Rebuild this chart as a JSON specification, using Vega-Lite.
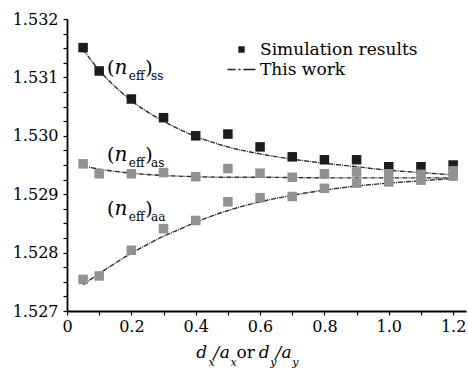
{
  "$schema": "https://vega.github.io/schema/vega-lite/v6.json",
  "width": 399,
  "height": 292,
  "autosize": {"type": "none"},
  "padding": {"left": 67, "top": 19, "right": 2, "bottom": 58},
  "background": "white",
  "config": {
    "view": {"stroke": null},
    "font": "DejaVu Serif",
    "axis": {
      "domainColor": "black",
      "domainWidth": 1.8,
      "tickColor": "black",
      "tickWidth": 1.2,
      "tickSize": 4,
      "labelColor": "black",
      "labelFont": "DejaVu Serif",
      "labelFontSize": 16,
      "grid": false,
      "title": null,
      "labelOverlap": false,
      "labelFlush": false
    }
  },
  "datasets": {
    "sim": [
      {"x": 0.05, "y": 1.53151, "s": "ss"}, {"x": 0.1, "y": 1.53111, "s": "ss"}, {"x": 0.2, "y": 1.53063, "s": "ss"},
      {"x": 0.3, "y": 1.53031, "s": "ss"}, {"x": 0.4, "y": 1.53000, "s": "ss"}, {"x": 0.5, "y": 1.53003, "s": "ss"},
      {"x": 0.6, "y": 1.52981, "s": "ss"}, {"x": 0.7, "y": 1.52964, "s": "ss"}, {"x": 0.8, "y": 1.52959, "s": "ss"},
      {"x": 0.9, "y": 1.52959, "s": "ss"}, {"x": 1.0, "y": 1.52947, "s": "ss"}, {"x": 1.1, "y": 1.52947, "s": "ss"},
      {"x": 1.2, "y": 1.52950, "s": "ss"},
      {"x": 0.05, "y": 1.52952, "s": "as"}, {"x": 0.1, "y": 1.52935, "s": "as"}, {"x": 0.2, "y": 1.52935, "s": "as"},
      {"x": 0.3, "y": 1.52937, "s": "as"}, {"x": 0.4, "y": 1.52930, "s": "as"}, {"x": 0.5, "y": 1.52944, "s": "as"},
      {"x": 0.6, "y": 1.52936, "s": "as"}, {"x": 0.7, "y": 1.52929, "s": "as"}, {"x": 0.8, "y": 1.52935, "s": "as"},
      {"x": 0.9, "y": 1.52938, "s": "as"}, {"x": 1.0, "y": 1.52935, "s": "as"}, {"x": 1.1, "y": 1.52934, "s": "as"},
      {"x": 1.2, "y": 1.52940, "s": "as"},
      {"x": 0.05, "y": 1.52754, "s": "aa"}, {"x": 0.1, "y": 1.52760, "s": "aa"}, {"x": 0.2, "y": 1.52804, "s": "aa"},
      {"x": 0.3, "y": 1.52841, "s": "aa"}, {"x": 0.4, "y": 1.52855, "s": "aa"}, {"x": 0.5, "y": 1.52887, "s": "aa"},
      {"x": 0.6, "y": 1.52894, "s": "aa"}, {"x": 0.7, "y": 1.52896, "s": "aa"}, {"x": 0.8, "y": 1.52910, "s": "aa"},
      {"x": 0.9, "y": 1.52919, "s": "aa"}, {"x": 1.0, "y": 1.52921, "s": "aa"}, {"x": 1.1, "y": 1.52924, "s": "aa"},
      {"x": 1.2, "y": 1.52931, "s": "aa"}
    ],
    "fit": [
      {"x": 0.05, "y": 1.53148, "s": "ss"}, {"x": 0.1, "y": 1.53112, "s": "ss"}, {"x": 0.15, "y": 1.53084, "s": "ss"},
      {"x": 0.2, "y": 1.53060, "s": "ss"}, {"x": 0.25, "y": 1.53041, "s": "ss"}, {"x": 0.3, "y": 1.53025, "s": "ss"},
      {"x": 0.35, "y": 1.53011, "s": "ss"}, {"x": 0.4, "y": 1.52999, "s": "ss"}, {"x": 0.5, "y": 1.52981, "s": "ss"},
      {"x": 0.6, "y": 1.52969, "s": "ss"}, {"x": 0.7, "y": 1.52960, "s": "ss"}, {"x": 0.8, "y": 1.52953, "s": "ss"},
      {"x": 0.9, "y": 1.52947, "s": "ss"}, {"x": 1.0, "y": 1.52941, "s": "ss"}, {"x": 1.1, "y": 1.52937, "s": "ss"},
      {"x": 1.2, "y": 1.52933, "s": "ss"},
      {"x": 0.05, "y": 1.52948, "s": "as"}, {"x": 0.1, "y": 1.52943, "s": "as"}, {"x": 0.15, "y": 1.52939, "s": "as"},
      {"x": 0.2, "y": 1.52936, "s": "as"}, {"x": 0.3, "y": 1.52932, "s": "as"}, {"x": 0.4, "y": 1.52930, "s": "as"},
      {"x": 0.5, "y": 1.52929, "s": "as"}, {"x": 0.6, "y": 1.52929, "s": "as"}, {"x": 0.8, "y": 1.52928, "s": "as"},
      {"x": 1.0, "y": 1.52928, "s": "as"}, {"x": 1.2, "y": 1.52928, "s": "as"},
      {"x": 0.05, "y": 1.52745, "s": "aa"}, {"x": 0.1, "y": 1.52764, "s": "aa"}, {"x": 0.15, "y": 1.52782, "s": "aa"},
      {"x": 0.2, "y": 1.52799, "s": "aa"}, {"x": 0.25, "y": 1.52814, "s": "aa"}, {"x": 0.3, "y": 1.52828, "s": "aa"},
      {"x": 0.35, "y": 1.52840, "s": "aa"}, {"x": 0.4, "y": 1.52852, "s": "aa"}, {"x": 0.5, "y": 1.52872, "s": "aa"},
      {"x": 0.6, "y": 1.52887, "s": "aa"}, {"x": 0.7, "y": 1.52898, "s": "aa"}, {"x": 0.8, "y": 1.52907, "s": "aa"},
      {"x": 0.9, "y": 1.52914, "s": "aa"}, {"x": 1.0, "y": 1.52919, "s": "aa"}, {"x": 1.1, "y": 1.52923, "s": "aa"},
      {"x": 1.2, "y": 1.52927, "s": "aa"}
    ],
    "parens": [
      {"x": 0.124, "y": 1.53106, "t": "("}, {"x": 0.243, "y": 1.53106, "t": ")"},
      {"x": 0.124, "y": 1.52957, "t": "("}, {"x": 0.243, "y": 1.52957, "t": ")"},
      {"x": 0.124, "y": 1.52864, "t": "("}, {"x": 0.243, "y": 1.52864, "t": ")"}
    ],
    "nit": [
      {"x": 0.148, "y": 1.53106, "t": "n"},
      {"x": 0.148, "y": 1.52957, "t": "n"},
      {"x": 0.148, "y": 1.52864, "t": "n"}
    ],
    "subs": [
      {"x": 0.192, "y": 1.53096, "t": "eff"}, {"x": 0.261, "y": 1.53096, "t": "ss"},
      {"x": 0.192, "y": 1.52947, "t": "eff"}, {"x": 0.261, "y": 1.52947, "t": "as"},
      {"x": 0.192, "y": 1.52854, "t": "eff"}, {"x": 0.261, "y": 1.52854, "t": "aa"}
    ],
    "titleIt": [
      {"x": 0.402, "y": 1.52620, "t": "d"}, {"x": 0.455, "y": 1.52620, "t": "/"}, {"x": 0.475, "y": 1.52620, "t": "a"},
      {"x": 0.596, "y": 1.52620, "t": "d"}, {"x": 0.648, "y": 1.52620, "t": "/"}, {"x": 0.667, "y": 1.52620, "t": "a"}
    ],
    "titleUp": [
      {"x": 0.527, "y": 1.52620, "t": "or"}
    ],
    "titleSub": [
      {"x": 0.440, "y": 1.52606, "t": "x"}, {"x": 0.508, "y": 1.52606, "t": "x"},
      {"x": 0.632, "y": 1.52606, "t": "y"}, {"x": 0.700, "y": 1.52606, "t": "y"}
    ]
  },
  "encoding": {
    "x": {
      "field": "x", "type": "quantitative",
      "scale": {"domain": [0, 1.24], "nice": false, "zero": false},
      "axis": {
        "values": [0, 0.1, 0.2, 0.3, 0.4, 0.5, 0.6, 0.7, 0.8, 0.9, 1.0, 1.1, 1.2],
        "labelExpr": "(round(datum.value*10) % 2 == 0) ? (datum.value == 0 ? '0' : format(datum.value, '.1f')) : ''",
        "labelPadding": 3
      }
    },
    "y": {
      "field": "y", "type": "quantitative",
      "scale": {"domain": [1.527, 1.532], "nice": false, "zero": false},
      "axis": {
        "values": [1.527, 1.52725, 1.5275, 1.52775, 1.528, 1.52825, 1.5285, 1.52875, 1.529, 1.52925, 1.5295, 1.52975, 1.53, 1.53025, 1.5305, 1.53075, 1.531, 1.53125, 1.5315, 1.53175, 1.532],
        "labelExpr": "(round(datum.value*10000) % 10 == 0) ? format(datum.value, '.3f') : ''",
        "labelPadding": 5
      }
    }
  },
  "layer": [
    {
      "data": {"name": "fit"},
      "mark": {"type": "line", "interpolate": "monotone", "color": "#2a2a2a", "strokeWidth": 1.4, "strokeDash": [5, 1, 1, 1]},
      "encoding": {"detail": {"field": "s", "type": "nominal"}}
    },
    {
      "data": {"name": "sim"},
      "mark": {"type": "point", "filled": true, "opacity": 1, "size": 700},
      "encoding": {
        "color": {
          "field": "s", "type": "nominal",
          "scale": {"domain": ["ss", "as", "aa"], "range": ["#1c1c1c", "#929292", "#929292"]},
          "legend": null
        },
        "shape": {
          "datum": "Simulation results",
          "type": "nominal",
          "scale": {
            "domain": ["Simulation results", "This work"],
            "range": ["M-0.36,-0.36H0.36V0.36H-0.36Z", "M-2,0H-0.86M-0.42,0H-0.14M0.28,0H2"]
          },
          "legend": {
            "orient": "none",
            "legendX": 166,
            "legendY": 22,
            "title": null,
            "padding": 0,
            "rowPadding": 2,
            "symbolSize": 196,
            "symbolFillColor": "#1c1c1c",
            "symbolStrokeColor": "#1c1c1c",
            "symbolStrokeWidth": 1.3,
            "labelOffset": 10,
            "labelFont": "DejaVu Serif",
            "labelFontSize": 17,
            "labelColor": "black",
            "labelLimit": 300
          }
        }
      }
    },
    {
      "data": {"name": "parens"},
      "mark": {"type": "text", "align": "left", "baseline": "alphabetic", "font": "DejaVu Serif", "fontSize": 19, "color": "black"},
      "encoding": {"text": {"field": "t"}}
    },
    {
      "data": {"name": "nit"},
      "mark": {"type": "text", "align": "left", "baseline": "alphabetic", "font": "DejaVu Serif", "fontSize": 20, "fontStyle": "italic", "color": "black"},
      "encoding": {"text": {"field": "t"}}
    },
    {
      "data": {"name": "subs"},
      "mark": {"type": "text", "align": "left", "baseline": "alphabetic", "font": "DejaVu Serif", "fontSize": 12, "color": "black"},
      "encoding": {"text": {"field": "t"}}
    },
    {
      "data": {"name": "titleIt"},
      "mark": {"type": "text", "align": "left", "baseline": "alphabetic", "font": "DejaVu Serif", "fontSize": 17, "fontStyle": "italic", "color": "black"},
      "encoding": {"text": {"field": "t"}}
    },
    {
      "data": {"name": "titleUp"},
      "mark": {"type": "text", "align": "left", "baseline": "alphabetic", "font": "DejaVu Serif", "fontSize": 17, "color": "black"},
      "encoding": {"text": {"field": "t"}}
    },
    {
      "data": {"name": "titleSub"},
      "mark": {"type": "text", "align": "left", "baseline": "alphabetic", "font": "DejaVu Serif", "fontSize": 11, "fontStyle": "italic", "color": "black"},
      "encoding": {"text": {"field": "t"}}
    }
  ]
}
